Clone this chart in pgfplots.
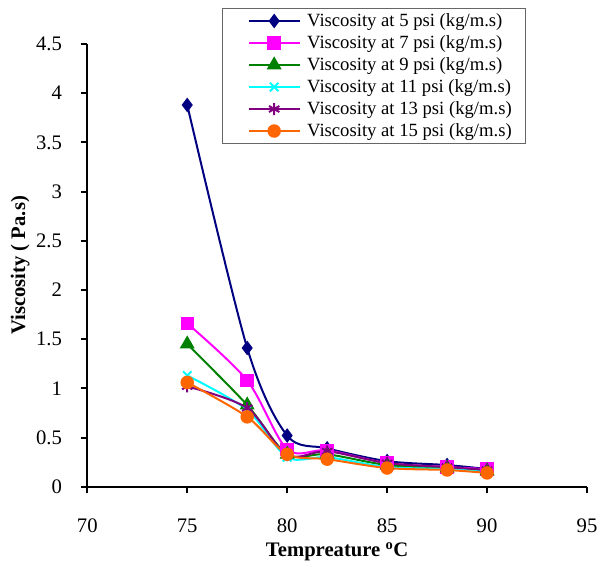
\documentclass[border=0pt]{standalone}
\usepackage{pgfplots}
\pgfplotsset{compat=1.18}
\usepackage{fontspec}
\setmainfont{Liberation Serif}
\definecolor{c5}{RGB}{0,0,128}
\definecolor{c7}{RGB}{255,0,255}
\definecolor{c9}{RGB}{0,128,0}
\definecolor{c11}{RGB}{0,255,255}
\definecolor{c13}{RGB}{128,0,128}
\definecolor{c15}{RGB}{255,102,0}
\begin{document}
\begin{tikzpicture}[font=\fontsize{14}{16.3}\selectfont]
\begin{axis}[
  name=ax,
  scale only axis,
  width=375pt, height=332.25pt,
  xmin=70, xmax=95, ymin=0, ymax=4.5,
  xtick={70,75,...,95},
  ytick={0,0.5,...,4.5},
  yticklabels={0,0.5,1,1.5,2,2.5,3,3.5,4,4.5},
  axis lines*=left,
  axis line style={line width=1.5pt},
  tick align=outside,
  major tick length=5pt,
  tick style={line width=1.5pt, black},
  /pgf/number format/assume math mode=true,
  ticklabel style={font=\fontsize{15.5}{18}\selectfont},
  yticklabel style={xshift=-10.5pt},
  xticklabel style={yshift=-15.5pt},
  xlabel={\textbf{Tempreature \textsuperscript{o}C}},
  ylabel={\textbf{Viscosity ( Pa.s)}},
  label style={font=\fontsize{15.5}{18}\selectfont},
  xlabel style={yshift=-1pt},
  ylabel style={yshift=-2pt},
  legend style={at={(0.2696,1.082)}, anchor=north west, draw=gray!80!black, line width=0.8pt,
    font=\fontsize{14}{16.3}\selectfont, row sep=1.3pt, inner xsep=8pt, inner ysep=2pt},
  legend cell align=left,
  legend image code/.code={
    \path (-11pt,0pt) (41pt,0pt);
    \draw[mark repeat=2,mark phase=2,#1] plot coordinates {(0pt,0pt) (19pt,0pt) (38pt,0pt)};},
  every axis plot/.append style={line width=1.5pt, smooth, tension=0.5},
]
\addplot[color=c5, mark=diamond*, mark size=4.3pt, mark options={solid}] coordinates {(75,3.88) (78,1.41) (80,0.52) (82,0.39) (85,0.26) (88,0.22) (90,0.18)};
\addlegendentry{Viscosity at 5 psi (kg/m.s)}
\addplot[color=c7, mark=square*, mark size=4.3pt] coordinates {(75,1.66) (78,1.08) (80,0.38) (82,0.37) (85,0.24) (88,0.20) (90,0.18)};
\addlegendentry{Viscosity at 7 psi (kg/m.s)}
\addplot[color=c9, mark=triangle*, mark size=5pt] coordinates {(75,1.45) (78,0.83) (80,0.33) (82,0.33) (85,0.22) (88,0.19) (90,0.16)};
\addlegendentry{Viscosity at 9 psi (kg/m.s)}
\addplot[color=c11, mark=x, mark size=4.5pt] coordinates {(75,1.13) (78,0.78) (80,0.30) (82,0.30) (85,0.20) (88,0.18) (90,0.15)};
\addlegendentry{Viscosity at 11 psi (kg/m.s)}
\addplot[color=c13, mark=asterisk, mark size=4.5pt] coordinates {(75,1.02) (78,0.80) (80,0.32) (82,0.36) (85,0.24) (88,0.20) (90,0.17)};
\addlegendentry{Viscosity at 13 psi (kg/m.s)}
\addplot[color=c15, mark=*, mark size=4.3pt] coordinates {(75,1.06) (78,0.71) (80,0.33) (82,0.28) (85,0.19) (88,0.17) (90,0.14)};
\addlegendentry{Viscosity at 15 psi (kg/m.s)}
\end{axis}
\pgfresetboundingbox
\path[use as bounding box] ([xshift=-65.5pt,yshift=-58.3pt]ax.south west) rectangle ([xshift=8.25pt,yshift=33pt]ax.north east);
\end{tikzpicture}
\end{document}
